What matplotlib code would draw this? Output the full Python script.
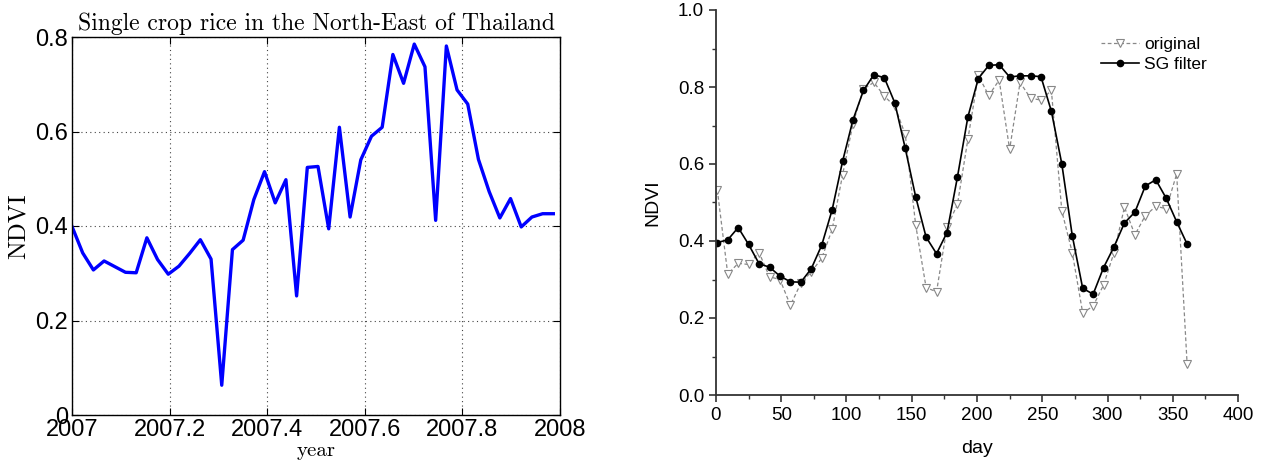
import numpy as np
import matplotlib
matplotlib.use("Agg")
from matplotlib import pyplot as plt
from matplotlib.ticker import MultipleLocator, FormatStrFormatter

# 8-day composite dates (day of year)
days = [1, 9, 17, 25, 33, 41, 49, 57, 65, 73, 81, 89, 97, 105, 113, 121,
        129, 137, 145, 153, 161, 169, 177, 185, 193, 201, 209, 217, 225, 233,
        241, 249, 257, 265, 273, 281, 289, 297, 305, 313, 321, 329, 337, 345,
        353, 361]

# left panel: single crop rice, NE Thailand (2007)
ndvi_rice = [0.399, 0.343, 0.307, 0.326, 0.314, 0.302, 0.301, 0.375, 0.329,
             0.298, 0.315, 0.342, 0.371, 0.330, 0.063, 0.350, 0.370, 0.456,
             0.515, 0.449, 0.498, 0.252, 0.524, 0.526, 0.394, 0.609, 0.419,
             0.540, 0.590, 0.609, 0.763, 0.702, 0.785, 0.737, 0.412, 0.781,
             0.688, 0.658, 0.541, 0.473, 0.417, 0.458, 0.398, 0.419, 0.426,
             0.426]

# right panel: original vs Savitzky-Golay filtered
ndvi_original = [0.533, 0.314, 0.342, 0.339, 0.370, 0.307, 0.300, 0.233, 0.290,
                 0.320, 0.355, 0.430, 0.572, 0.705, 0.795, 0.812, 0.776, 0.750,
                 0.677, 0.442, 0.279, 0.268, 0.436, 0.495, 0.664, 0.830, 0.778,
                 0.818, 0.638, 0.812, 0.771, 0.766, 0.791, 0.478, 0.370, 0.213,
                 0.231, 0.286, 0.370, 0.488, 0.416, 0.466, 0.490, 0.484, 0.574,
                 0.081]
ndvi_sg = [0.396, 0.403, 0.435, 0.391, 0.341, 0.332, 0.309, 0.294, 0.293, 0.328,
           0.389, 0.481, 0.607, 0.715, 0.791, 0.832, 0.824, 0.759, 0.641, 0.515,
           0.410, 0.367, 0.422, 0.566, 0.722, 0.822, 0.856, 0.858, 0.826, 0.829,
           0.829, 0.827, 0.737, 0.600, 0.414, 0.277, 0.262, 0.331, 0.385, 0.447,
           0.475, 0.543, 0.559, 0.511, 0.450, 0.392]

years = 2007 + (np.array(days) - 1) / 365.0

fig = plt.figure(figsize=(12.84, 4.68), dpi=100)

# ---- left: MATLAB-like plot
ax1 = fig.add_axes([72/1284, 1-415/468, (560-72)/1284, (415-37)/468])
ax1.plot(years, ndvi_rice, color=(0, 0, 1), linewidth=2.4)
ax1.set_xlim(2007, 2008)
ax1.set_ylim(0, 0.8)
ax1.set_xticks([2007, 2007.2, 2007.4, 2007.6, 2007.8, 2008])
ax1.set_xticklabels(["2007", "2007.2", "2007.4", "2007.6", "2007.8", "2008"])
ax1.set_yticks([0, 0.2, 0.4, 0.6, 0.8])
ax1.set_yticklabels(["0", "0.2", "0.4", "0.6", "0.8"])
ax1.grid(True, linestyle=(0, (1, 3)), color="#444444", linewidth=0.8)
ax1.tick_params(direction="in", top=True, right=True, labelsize=17, length=5,
                pad=3)
for lab in ax1.get_xticklabels() + ax1.get_yticklabels():
    lab.set_fontfamily("Liberation Sans")
for s in ax1.spines.values():
    s.set_linewidth(1.0)
ax1.set_title("Single crop rice in the North-East of Thailand",
              fontfamily="cmr10", fontsize=17, pad=5)
ax1.set_xlabel("year", fontfamily="cmr10", fontsize=15, labelpad=1)
ax1.set_ylabel("NDVI", fontfamily="cmr10", fontsize=18, labelpad=4)

# ---- right: Origin-like plot
ax2 = fig.add_axes([716/1284, 1-395/468, (1238-716)/1284, (395-10)/468])
ax2.plot(days, ndvi_original, linestyle=(0, (3, 2)), color="#888888",
         linewidth=0.9, marker="v", markersize=5.5, markerfacecolor="white",
         markeredgecolor="#888888", markeredgewidth=0.8, label="original")
ax2.plot(days, ndvi_sg, linestyle="-", color="black", linewidth=1.2,
         marker="o", markersize=4.5, markerfacecolor="black",
         label="SG filter")
ax2.set_xlim(0, 400)
ax2.set_ylim(0, 1.0)
ax2.xaxis.set_major_locator(MultipleLocator(50))
ax2.xaxis.set_minor_locator(MultipleLocator(25))
ax2.yaxis.set_major_locator(MultipleLocator(0.2))
ax2.yaxis.set_minor_locator(MultipleLocator(0.1))
ax2.yaxis.set_major_formatter(FormatStrFormatter("%.1f"))
ax2.spines["top"].set_visible(False)
ax2.spines["right"].set_visible(False)
for s in ["left", "bottom"]:
    ax2.spines[s].set_linewidth(1.3)
    ax2.spines[s].set_color("#333333")
ax2.tick_params(which="major", direction="out", length=5, width=1.2,
                color="#333333", labelsize=13.5)
ax2.tick_params(which="minor", direction="out", length=3, width=1.0,
                color="#333333")
for lab in ax2.get_xticklabels() + ax2.get_yticklabels():
    lab.set_fontfamily("Liberation Sans")
ax2.set_xlabel("day", fontfamily="Liberation Sans", fontsize=14, labelpad=12)
ax2.set_ylabel("NDVI", fontfamily="Liberation Sans", fontsize=14, labelpad=12)
leg = ax2.legend(loc="upper right", bbox_to_anchor=(0.97, 0.97), frameon=False,
                 prop={"family": "Liberation Sans", "size": 12.5},
                 handlelength=2.2, handletextpad=0.3, labelspacing=0.25)

plt.savefig("out.png", dpi=100)
plt.close()
